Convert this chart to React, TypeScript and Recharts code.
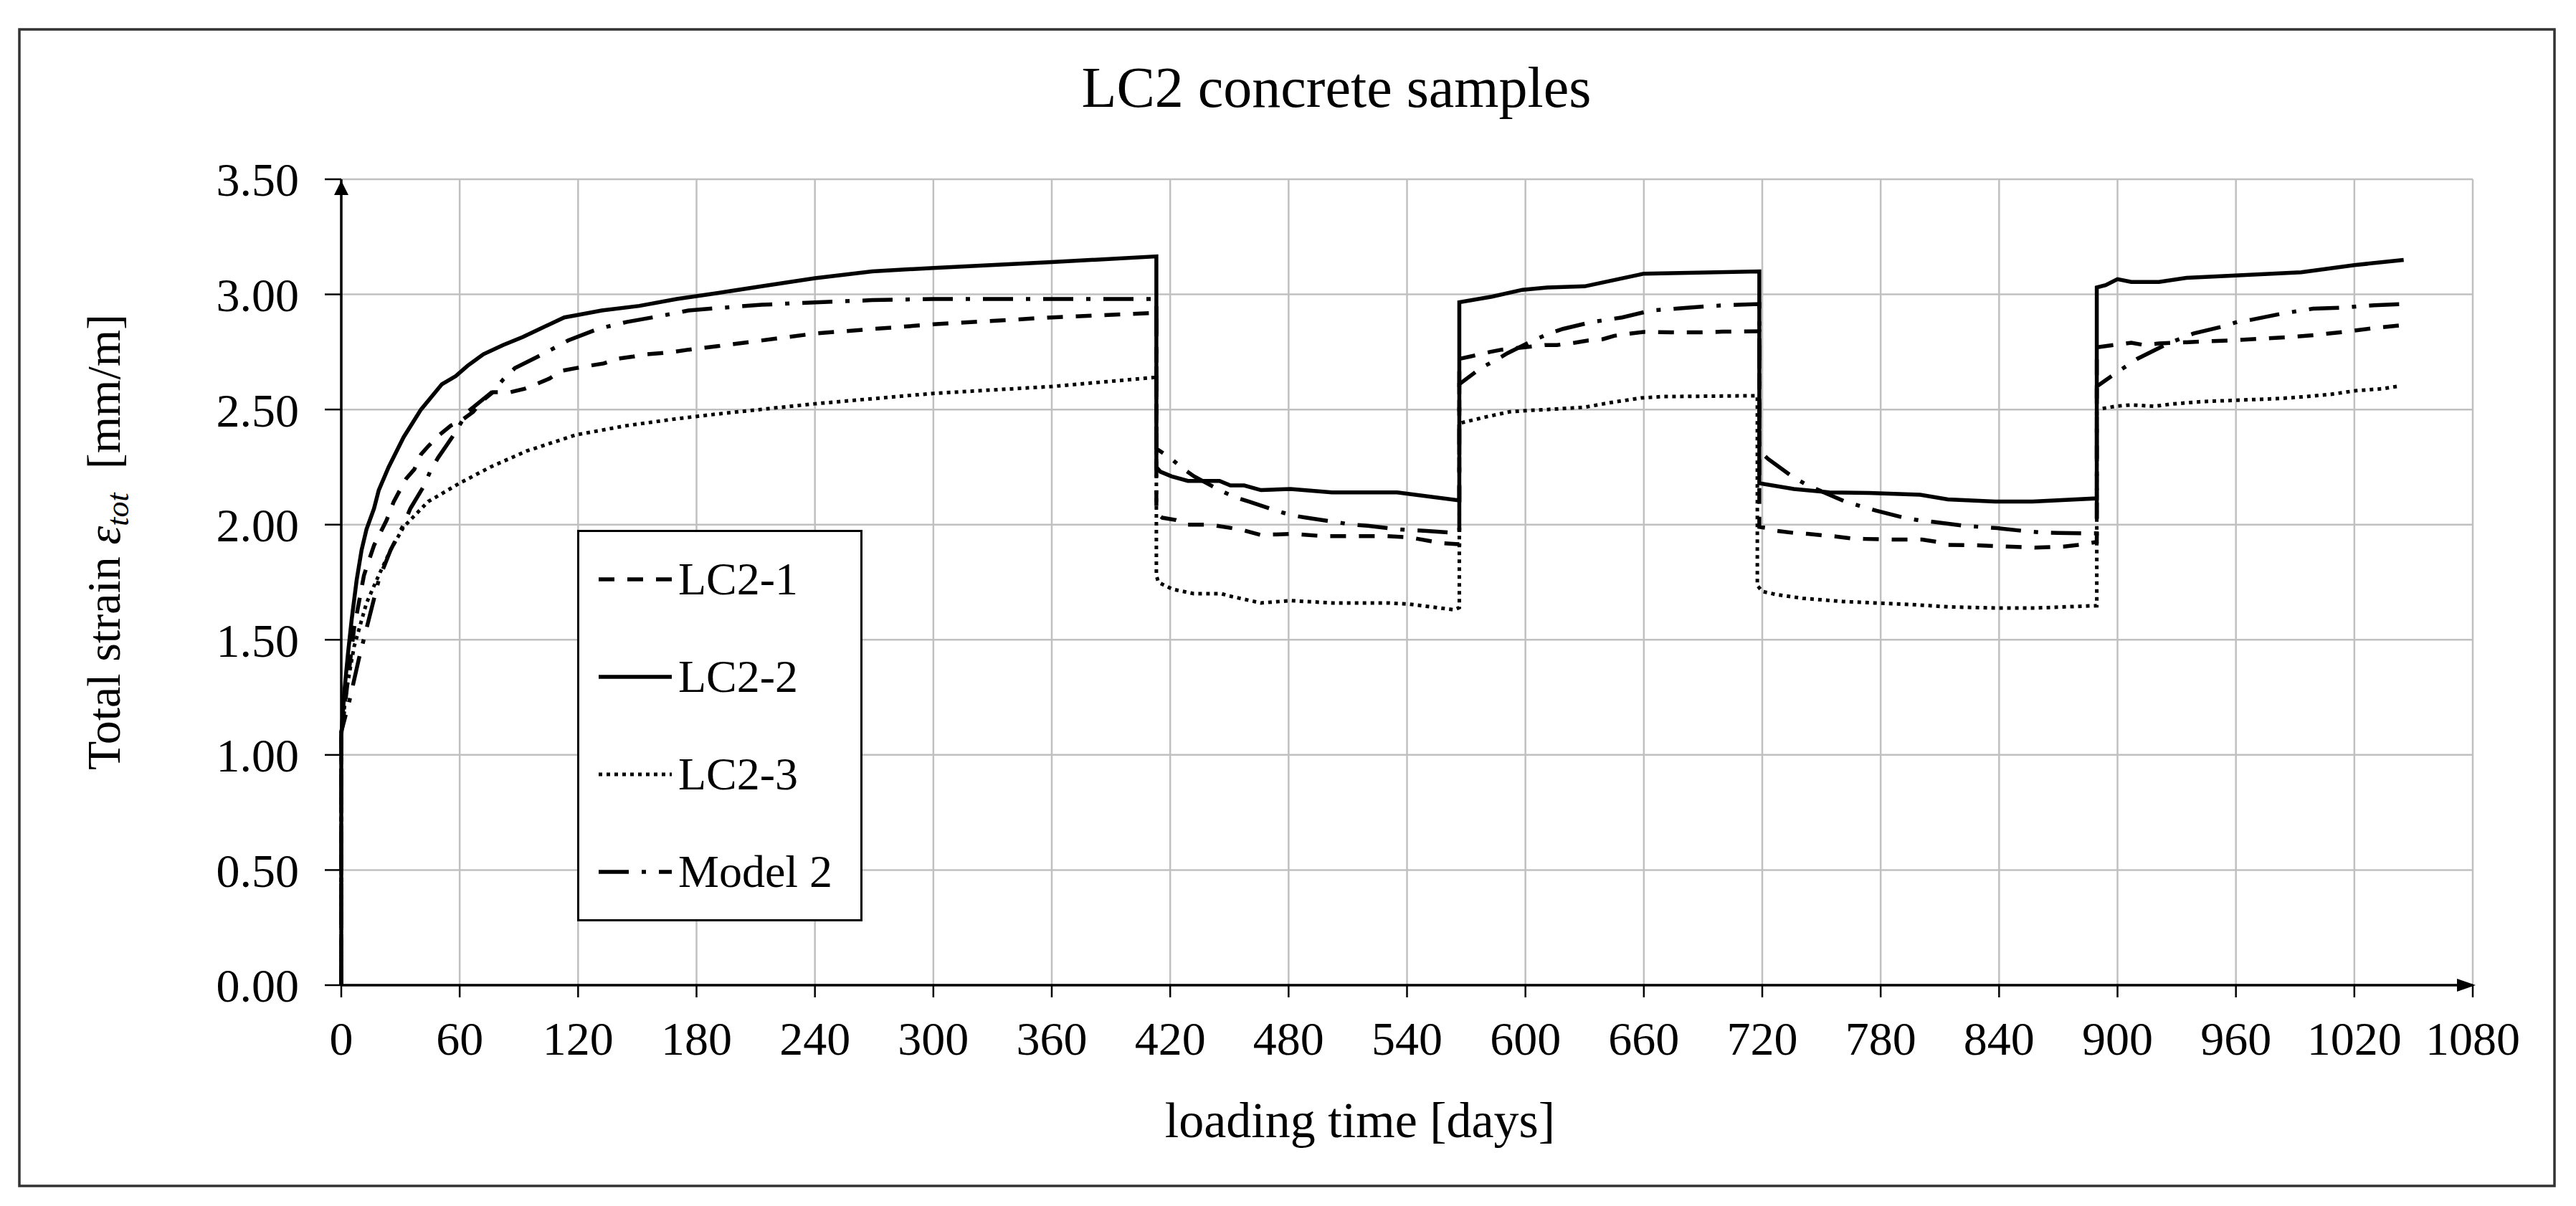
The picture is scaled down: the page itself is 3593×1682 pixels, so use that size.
import { LineChart, Line, XAxis, YAxis, CartesianGrid, Legend, ReferenceDot } from "recharts";

// tick labels
const xTicks = [0, 60, 120, 180, 240, 300, 360, 420, 480, 540, 600, 660, 720, 780, 840, 900, 960, 1020, 1080];
const yTicks = [0, 0.5, 1, 1.5, 2, 2.5, 3, 3.5];

// [loading time in days, total strain in mm/m]
const lc21 = [
  [0, 0], [0, 1.08], [3, 1.3], [6.5, 1.55], [11.5, 1.78], [16.6, 1.91], [23, 2.02], [26.6, 2.1], [32.9, 2.2],
  [37, 2.24], [40.4, 2.305], [44, 2.34], [49.8, 2.39], [55.5, 2.43], [60.5, 2.45], [66.8, 2.49], [71.8, 2.54],
  [76.8, 2.575], [85.6, 2.575], [93, 2.59], [98.7, 2.61], [105.6, 2.635], [111, 2.667], [119, 2.68], [125.7, 2.69],
  [133, 2.7], [139.5, 2.72], [148, 2.73], [154.6, 2.74], [162, 2.745], [168, 2.75], [176, 2.76], [182, 2.766],
  [190.7, 2.775], [240, 2.83], [300, 2.87], [360, 2.9], [413, 2.92],
  [413, 2.05], [416, 2.03], [423, 2.02], [428, 2.0], [440, 2.0], [455, 1.98], [466, 1.955], [481, 1.96], [498, 1.95],
  [516, 1.95], [530, 1.95], [541, 1.945], [557.5, 1.92], [566.5, 1.915],
  [566.5, 2.72], [572, 2.73], [582, 2.75], [588, 2.76], [599, 2.77], [610, 2.78], [616, 2.78], [625, 2.79], [632, 2.8],
  [639, 2.805], [645, 2.82], [653, 2.83], [660, 2.837], [674, 2.835], [688, 2.835], [700, 2.838], [718.5, 2.84],
  [718.5, 1.99], [722.5, 1.985], [726.7, 1.974], [736, 1.964], [743, 1.96], [751, 1.953], [758, 1.948], [765.5, 1.94],
  [772, 1.938], [786, 1.935], [801, 1.935], [808.6, 1.925], [814, 1.912], [829, 1.91], [844, 1.905], [858, 1.9],
  [873, 1.905], [880, 1.912], [889.5, 1.925],
  [889.5, 2.77], [898, 2.78], [907, 2.79], [913.5, 2.78], [921, 2.787], [943, 2.795], [957, 2.8], [972, 2.807],
  [986.5, 2.814], [1000.6, 2.824], [1015, 2.837], [1029.5, 2.853], [1044, 2.866],
];

const lc22 = [
  [0, 0], [0, 1.08], [1.5, 1.27], [3.4, 1.44], [5.3, 1.59], [7.8, 1.76], [10.3, 1.89], [12.8, 1.98], [16.6, 2.07],
  [19, 2.15], [24, 2.25], [31.6, 2.38], [40.4, 2.5], [51, 2.61], [58, 2.645], [64, 2.69], [72, 2.74], [82, 2.78],
  [92, 2.815], [100.6, 2.85], [113, 2.9], [119.4, 2.91], [132, 2.93], [151, 2.95], [170, 2.98], [190, 3.005],
  [213, 3.035], [240, 3.07], [269, 3.1], [300, 3.115], [360, 3.14], [413, 3.165],
  [413, 2.25], [415, 2.23], [420.7, 2.21], [429, 2.19], [445, 2.19], [450.5, 2.17], [457.5, 2.17], [466, 2.15],
  [481, 2.155], [502, 2.14], [535, 2.14], [566.5, 2.105],
  [566.5, 2.966], [583, 2.99], [598.5, 3.02], [611, 3.03], [630, 3.035], [660, 3.09], [718.5, 3.1],
  [718.5, 2.18], [736, 2.155], [754, 2.14], [774, 2.138], [800, 2.13], [814, 2.11], [838, 2.1], [857, 2.1], [889.5, 2.114],
  [889.5, 3.03], [894, 3.04], [900, 3.066], [907, 3.054], [921, 3.054], [935, 3.072], [959.6, 3.082], [993, 3.096],
  [1020, 3.127], [1045, 3.15],
];

const lc23 = [
  [0, 0], [0, 1.1], [3, 1.3], [6.5, 1.47], [12.8, 1.66], [19, 1.78], [25, 1.89], [31.6, 1.99], [44, 2.1], [60, 2.18],
  [75.5, 2.25], [94, 2.32], [119, 2.39], [144.5, 2.43], [170, 2.46], [190, 2.48], [240, 2.525], [300, 2.57],
  [360, 2.6], [413, 2.64],
  [413, 1.78], [414, 1.75], [421, 1.72], [432, 1.7], [446, 1.7], [450, 1.69], [466, 1.66], [481, 1.67], [502, 1.66],
  [530, 1.66], [541, 1.655], [564, 1.63], [566.5, 1.64],
  [566.5, 2.44], [579, 2.466], [592, 2.49], [600, 2.495], [611, 2.5], [630, 2.51], [643, 2.53], [658.5, 2.55],
  [669, 2.556], [717.5, 2.56],
  [717.5, 1.736], [720, 1.71], [726.7, 1.697], [740.5, 1.68], [761, 1.666], [776.7, 1.66], [796, 1.653], [814, 1.643],
  [838, 1.638], [858.6, 1.638], [879.4, 1.645], [889.5, 1.648],
  [889.5, 2.5], [899, 2.514], [907, 2.52], [918.6, 2.514], [927.6, 2.524], [944, 2.535], [959.6, 2.54], [982.7, 2.548],
  [995.5, 2.556], [1008, 2.566], [1021, 2.582], [1034, 2.59], [1043.6, 2.603],
];

const model2 = [
  [0, 0], [0, 1.1], [4, 1.23], [9, 1.42], [14, 1.59], [19, 1.76], [25, 1.89], [31.6, 2.0], [35, 2.07], [42, 2.17],
  [45, 2.23], [49, 2.29], [57, 2.39], [64, 2.49], [77, 2.58], [82, 2.63], [88, 2.68], [102, 2.74], [115, 2.8],
  [130, 2.85], [144.5, 2.88], [161, 2.905], [176, 2.93], [190, 2.94], [213, 2.955], [240, 2.965], [269, 2.975],
  [300, 2.98], [360, 2.98], [413, 2.98],
  [413, 2.33], [420, 2.29], [425.5, 2.25], [432, 2.21], [445, 2.15], [452.6, 2.12], [460, 2.1], [474, 2.06], [482, 2.04],
  [489, 2.03], [505, 2.01], [512, 2.0], [520, 1.995], [535, 1.98], [543, 1.976], [550, 1.973], [566.5, 1.963],
  [566.5, 2.61], [577.4, 2.68], [584, 2.71], [591, 2.745], [604, 2.8], [612, 2.83], [619, 2.85], [633.6, 2.88],
  [641.6, 2.89], [649, 2.9], [663.6, 2.93], [672, 2.935], [679.6, 2.94], [695, 2.95], [702.5, 2.953], [718.5, 2.958],
  [718.5, 2.32], [723, 2.285], [735, 2.21], [742, 2.175], [762, 2.1], [770, 2.08], [778, 2.06], [792, 2.03], [800, 2.018],
  [808.6, 2.01], [822.5, 1.995], [831, 1.99], [839, 1.985], [853, 1.972], [861, 1.966], [869.7, 1.964], [889.5, 1.962],
  [889.5, 2.6], [897, 2.645], [903, 2.68], [910, 2.72], [924, 2.78], [931, 2.805], [938.5, 2.83], [953, 2.86],
  [960.6, 2.88], [968, 2.89], [983.6, 2.917], [991, 2.927], [999, 2.938], [1014, 2.942], [1022, 2.948], [1030, 2.953],
  [1045, 2.958],
];

const toPoints = (pairs: number[][]) => pairs.map(([day, strain]) => ({ day, strain }));

const series = [
  { name: "LC2-1", data: toPoints(lc21), width: 5.5, dash: "22 18" },
  { name: "LC2-2", data: toPoints(lc22), width: 5.5, dash: undefined },
  { name: "LC2-3", data: toPoints(lc23), width: 5, dash: "5 6" },
  { name: "Model 2", data: toPoints(model2), width: 5.5, dash: "42 18 6 18" },
];

const FONT = '"Liberation Serif", "Times New Roman", serif';

const LegendBox = () => (
  <svg width={398} height={546} style={{ display: "block" }}>
    <rect x={1.5} y={1.5} width={395} height={543} fill="#fff" stroke="#000" strokeWidth={3} />
    {series.map((s, i) => {
      const y = 69 + i * 136;
      return (
        <g key={s.name}>
          <line x1={30} x2={132} y1={y} y2={y} stroke="#000" strokeWidth={s.width} strokeDasharray={s.dash} />
          <text x={141} y={y + 21} fontSize={64} fontFamily={FONT} fill="#000">
            {s.name}
          </text>
        </g>
      );
    })}
  </svg>
);

const upArrow = (p: any) => (
  <path d={`M${p.cx},${p.cy + 2} L${p.cx - 10},${p.cy + 22} L${p.cx + 10},${p.cy + 22} Z`} fill="#000" />
);
const rightArrow = (p: any) => (
  <path d={`M${p.cx + 4},${p.cy} L${p.cx - 22},${p.cy - 9} L${p.cx - 22},${p.cy + 9} Z`} fill="#000" />
);

const tickStyle = { fontFamily: FONT, fontSize: 66, fill: "#000" };

const App = () => {
  return (
    <div style={{ width: 3577, height: 1666, background: "#fff", fontFamily: FONT }}>
      <LineChart width={3577} height={1666} margin={{ top: 242, right: 136, left: 268, bottom: 180 }}>
        <rect x={19} y={33} width={3536} height={1613} fill="none" stroke="#333" strokeWidth={3.5} />
        <text x={1856} y={141} textAnchor="middle" fontSize={80} fontFamily={FONT} fill="#000">
          LC2 concrete samples
        </text>
        <text
          x={159}
          y={748}
          transform="rotate(-90 159 748)"
          textAnchor="middle"
          fontSize={66}
          fontFamily={FONT}
          fill="#000"
        >
          Total strain{" "}
          <tspan fontStyle="italic">ε</tspan>
          <tspan fontStyle="italic" fontSize={44} dy={12}>
            tot
          </tspan>
          <tspan dy={-12}>{"\u00a0\u00a0[mm/m]"}</tspan>
        </text>
        <text x={1889} y={1578} textAnchor="middle" fontSize={70} fontFamily={FONT} fill="#000">
          loading time [days]
        </text>

        <CartesianGrid stroke="#c0c0c0" strokeWidth={2.5} />
        <XAxis
          dataKey="day"
          type="number"
          domain={[0, 1080]}
          ticks={xTicks}
          interval={0}
          height={120}
          tickSize={17}
          tickMargin={33}
          tick={tickStyle}
          axisLine={{ stroke: "#000", strokeWidth: 3.5 }}
          tickLine={{ stroke: "#000", strokeWidth: 2.5 }}
        />
        <YAxis
          type="number"
          domain={[0, 3.5]}
          ticks={yTicks}
          interval={0}
          width={200}
          tickSize={23}
          tickMargin={36}
          tick={tickStyle}
          tickFormatter={(v: number) => v.toFixed(2)}
          axisLine={{ stroke: "#000", strokeWidth: 3.5 }}
          tickLine={{ stroke: "#000", strokeWidth: 2.5 }}
        />
        {series.map((s) => (
          <Line
            key={s.name}
            name={s.name}
            data={s.data}
            dataKey="strain"
            type="linear"
            stroke="#000"
            strokeWidth={s.width}
            strokeDasharray={s.dash}
            strokeLinecap="butt"
            dot={false}
            activeDot={false}
            isAnimationActive={false}
          />
        ))}
        <ReferenceDot x={0} y={3.5} ifOverflow="visible" shape={upArrow} />
        <ReferenceDot x={1080} y={0} ifOverflow="visible" shape={rightArrow} />
        <Legend
          layout="horizontal"
          align="center"
          verticalAlign="middle"
          content={() => <LegendBox />}
          wrapperStyle={{ left: 797, top: 731, width: 398, height: 546 }}
        />
      </LineChart>
    </div>
  );
};

export default App;
